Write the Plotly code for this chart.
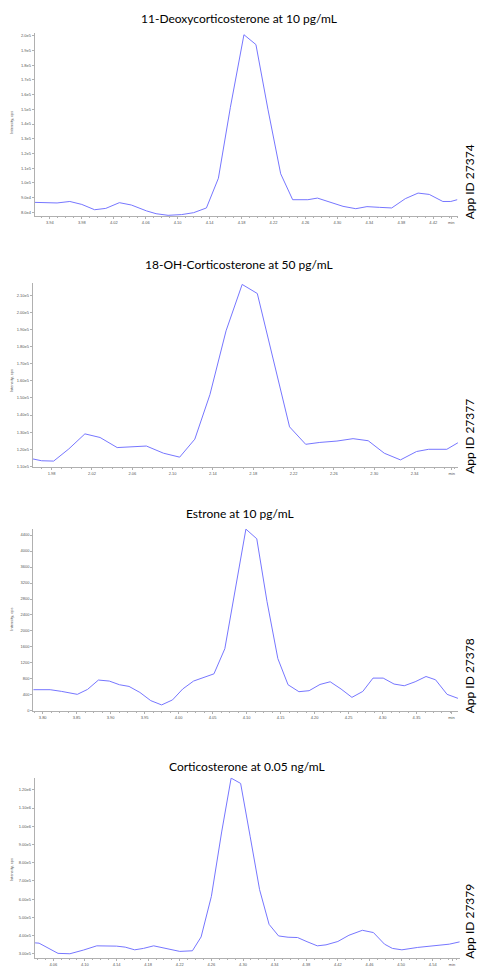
import plotly.graph_objects as go

# ---------------- data ----------------
titles = ["11-Deoxycorticosterone at 10 pg/mL", "18-OH-Corticosterone at 50 pg/mL",
          "Estrone at 10 pg/mL", "Corticosterone at 0.05 ng/mL"]
app_ids = ["App ID 27374", "App ID 27377", "App ID 27378", "App ID 27379"]

t1 = [3.921, 3.936, 3.949, 3.965, 3.980, 3.996, 4.010, 4.027, 4.042, 4.061, 4.073, 4.088,
      4.105, 4.120, 4.136, 4.151, 4.166, 4.183, 4.198, 4.213, 4.229, 4.244, 4.263, 4.275,
      4.290, 4.307, 4.323, 4.337, 4.353, 4.368, 4.385, 4.401, 4.415, 4.432, 4.442, 4.450]
i1 = [86800, 86800, 86400, 87400, 85400, 81800, 82700, 86600, 85000, 81000, 79100, 78000,
      78500, 79800, 83000, 103200, 151400, 200700, 194000, 150100, 106200, 88600, 88600, 89700,
      87000, 84100, 82500, 83900, 83400, 83000, 89300, 93100, 92200, 87400, 87400, 88600]

t2 = [1.961, 1.970, 1.982, 1.997, 2.013, 2.028, 2.045, 2.059, 2.074, 2.091, 2.107, 2.122,
      2.137, 2.153, 2.169, 2.184, 2.200, 2.216, 2.232, 2.246, 2.263, 2.279, 2.294, 2.310,
      2.326, 2.342, 2.354, 2.372, 2.383]
i2 = [114400, 113300, 113100, 120200, 129000, 126900, 121000, 121400, 121900, 117700, 115400, 125900,
      151900, 189200, 216300, 211000, 171900, 133100, 122900, 124000, 124800, 126200, 125000, 117700,
      113800, 118700, 120000, 120000, 123800]

t3 = [3.786, 3.811, 3.828, 3.851, 3.866, 3.882, 3.898, 3.913, 3.927, 3.943, 3.959, 3.975,
      3.991, 4.006, 4.022, 4.037, 4.052, 4.068, 4.084, 4.099, 4.115, 4.130, 4.146, 4.161,
      4.177, 4.192, 4.208, 4.223, 4.239, 4.255, 4.271, 4.286, 4.301, 4.317, 4.332, 4.348,
      4.364, 4.378, 4.395, 4.411]
i3 = [530, 530, 487, 413, 537, 771, 746, 654, 612, 462, 256, 149,
      274, 547, 746, 835, 927, 1556, 3115, 4549, 4308, 2742, 1308, 654,
      480, 505, 661, 728, 547, 338, 487, 820, 820, 671, 629, 728,
      860, 778, 413, 313]

t4 = [4.037, 4.042, 4.066, 4.081, 4.098, 4.115, 4.140, 4.151, 4.163, 4.174, 4.187, 4.203,
      4.220, 4.236, 4.247, 4.260, 4.273, 4.285, 4.297, 4.309, 4.321, 4.333, 4.345, 4.357,
      4.369, 4.381, 4.394, 4.405, 4.420, 4.434, 4.451, 4.465, 4.479, 4.489, 4.501, 4.521,
      4.540, 4.561, 4.574]
i4 = [359800, 358200, 302200, 300000, 320100, 343500, 341900, 336400, 321700, 329400, 343500, 327200,
      313000, 316300, 392400, 615200, 968500, 1264100, 1234800, 945100, 651600, 461400, 397800, 390800,
      389100, 366300, 343500, 348900, 367400, 401600, 428800, 416300, 352700, 329400, 321700, 334800,
      343500, 352700, 365200]

x_ticks1 = [3.94, 3.98, 4.02, 4.06, 4.10, 4.14, 4.18, 4.22, 4.26, 4.30, 4.34, 4.38, 4.42]
x_ticks2 = [1.98, 2.02, 2.06, 2.10, 2.14, 2.18, 2.22, 2.26, 2.30, 2.34]
x_ticks3 = [3.80, 3.85, 3.90, 3.95, 4.00, 4.05, 4.10, 4.15, 4.20, 4.25, 4.30, 4.35]
x_ticks4 = [4.06, 4.10, 4.14, 4.18, 4.22, 4.26, 4.30, 4.34, 4.38, 4.42, 4.46, 4.50, 4.54]
x_unit_pos = [4.4425, 2.3768, 4.4015, 4.5645]   # where the "min" unit label sits

y_ticks1 = [80000, 90000, 100000, 110000, 120000, 130000, 140000, 150000, 160000, 170000, 180000, 190000, 200000]
y_text1 = ["8.0e4", "9.0e4", "1.0e5", "1.1e5", "1.2e5", "1.3e5", "1.4e5", "1.5e5", "1.6e5", "1.7e5", "1.8e5", "1.9e5", "2.0e5"]
y_ticks2 = [110000, 120000, 130000, 140000, 150000, 160000, 170000, 180000, 190000, 200000, 210000]
y_text2 = ["1.10e5", "1.20e5", "1.30e5", "1.40e5", "1.50e5", "1.60e5", "1.70e5", "1.80e5", "1.90e5", "2.00e5", "2.10e5"]
y_ticks3 = [0, 400, 800, 1200, 1600, 2000, 2400, 2800, 3200, 3600, 4000, 4400]
y_text3 = [str(v) for v in y_ticks3]
y_ticks4 = [300000, 400000, 500000, 600000, 700000, 800000, 900000, 1000000, 1100000, 1200000]
y_text4 = ["3.00e5", "4.00e5", "5.00e5", "6.00e5", "7.00e5", "8.00e5", "9.00e5", "1.00e6", "1.10e6", "1.20e6"]

x_ranges = [[3.921, 4.451], [1.9612, 2.3831], [3.7862, 4.4115], [4.0365, 4.5745]]
y_ranges = [[77300, 201800], [109600, 217000], [0, 4560], [278300, 1265500]]

# ---------------- layout geometry (pixels) ----------------
W, H = 478, 967
panel_px = [  # left, right, top, bottom of plot areas
    (34.7, 458.0, 33.3, 217.7),
    (32.7, 458.0, 285.0, 470.0),
    (33.3, 458.3, 532.0, 715.3),
    (34.7, 460.0, 782.7, 963.7),
]
title_y_px = [19, 266, 517, 771]
title_x_px = [239, 239, 240, 247]
appid_y_px = [183, 439, 680, 927]
ylab_y_px = [123, 383, 623, 875]

line_color = "#7676ff"
axis_color = "#b0b0b0"
tick_font = dict(family="Liberation Sans, Arial, sans-serif", size=4, color="#555555")

series_t = [t1, t2, t3, t4]
series_i = [i1, i2, i3, i4]
xticks = [x_ticks1, x_ticks2, x_ticks3, x_ticks4]
yticks = [y_ticks1, y_ticks2, y_ticks3, y_ticks4]
ytexts = [y_text1, y_text2, y_text3, y_text4]

fig = go.Figure()
annotations = []
layout = dict(
    width=W, height=H, margin=dict(l=0, r=0, t=0, b=0),
    paper_bgcolor="white", plot_bgcolor="white", showlegend=False,
)

for k in range(4):
    n = "" if k == 0 else str(k + 1)
    xa, ya = "x" + n, "y" + n
    fig.add_trace(go.Scatter(x=series_t[k], y=series_i[k], mode="lines",
                             line=dict(color=line_color, width=1),
                             xaxis=xa, yaxis=ya, hoverinfo="skip"))
    l, r, t, b = panel_px[k]
    tv = xticks[k] + [x_unit_pos[k]]
    tt = ["%.2f" % v for v in xticks[k]] + ["min"]
    step = xticks[k][1] - xticks[k][0]
    layout["xaxis" + n] = dict(
        domain=[l / W, r / W], anchor=ya, range=x_ranges[k],
        showline=True, linecolor=axis_color, linewidth=1,
        ticks="outside", ticklen=2, tickcolor=axis_color, tickwidth=0.6,
        tickmode="array", tickvals=tv, ticktext=tt, tickfont=tick_font,
        showgrid=False, zeroline=False, fixedrange=True,
        minor=dict(ticks="outside", ticklen=1, tickcolor=axis_color,
                   tick0=xticks[k][0], dtick=step / 4, showgrid=False),
    )
    layout["yaxis" + n] = dict(
        domain=[1 - b / H, 1 - t / H], anchor=xa, range=y_ranges[k],
        showline=True, linecolor=axis_color, linewidth=1,
        ticks="outside", ticklen=2, tickcolor=axis_color, tickwidth=0.6,
        tickmode="array", tickvals=yticks[k], ticktext=ytexts[k], tickfont=tick_font,
        showgrid=False, zeroline=False, fixedrange=True,
    )
    annotations.append(dict(text=titles[k], xref="paper", yref="paper",
                            x=title_x_px[k] / W, y=1 - title_y_px[k] / H,
                            xanchor="center", yanchor="middle", showarrow=False,
                            font=dict(family="Lato, Carlito, sans-serif", size=12, color="#000000")))
    annotations.append(dict(text=app_ids[k], xref="paper", yref="paper",
                            x=469.5 / W, y=1 - appid_y_px[k] / H, textangle=-90,
                            xanchor="center", yanchor="middle", showarrow=False,
                            font=dict(family="Lato, Carlito, sans-serif", size=12, color="#000000")))
    annotations.append(dict(text="Intensity, cps", xref="paper", yref="paper",
                            x=11.5 / W, y=1 - ylab_y_px[k] / H, textangle=-90,
                            xanchor="center", yanchor="middle", showarrow=False,
                            font=dict(family="Liberation Sans, Arial, sans-serif", size=4, color="#555555")))

layout["annotations"] = annotations
fig.update_layout(**layout)
fig.write_html("out.html")
